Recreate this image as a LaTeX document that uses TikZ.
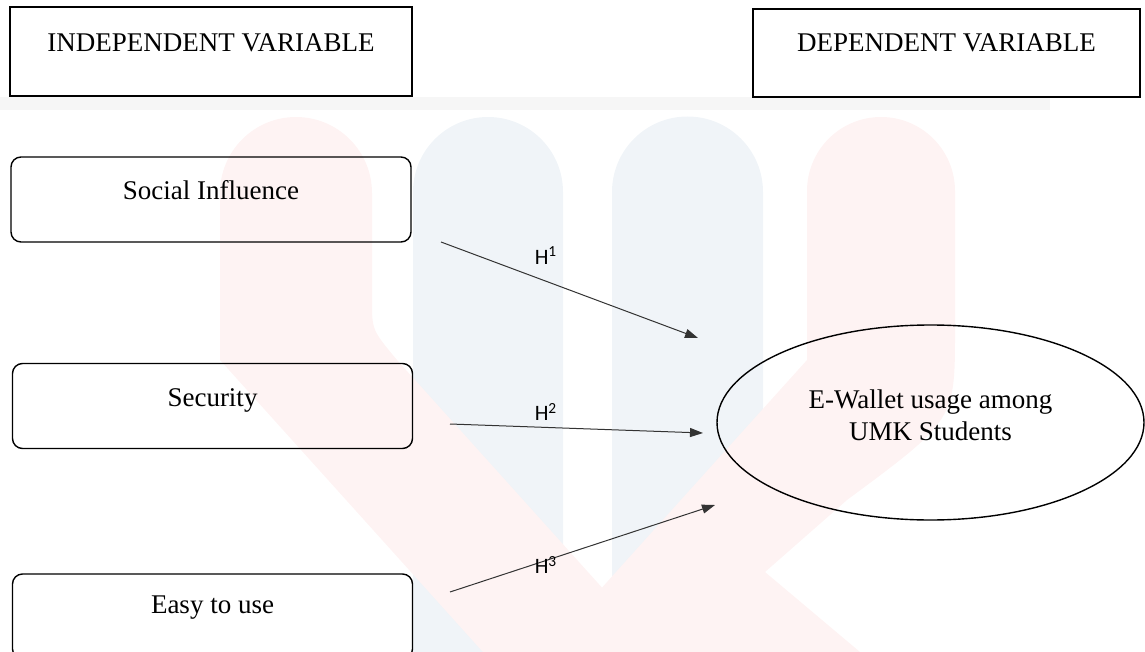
\documentclass[tikz,border=0pt]{standalone}
\usepackage{fontspec}
\setmainfont{Liberation Serif}
\newfontfamily\hypfont{Carlito}
\usetikzlibrary{arrows.meta,shapes.geometric}
\definecolor{logopink}{HTML}{FEF3F3}
\definecolor{logoblue}{HTML}{F0F4F8}
\definecolor{bandgrey}{HTML}{F6F6F6}

\begin{document}
\begin{tikzpicture}[x=0.5pt, y=-0.5pt,
        every node/.style={font=\fontsize{13.5}{16}\selectfont},
        headbox/.style={draw, line width=1.1pt, inner sep=0pt, text height=22.5pt, text depth=22pt},
        varbox/.style={draw, line width=0.7pt, rounded corners=5pt, inner sep=0pt, minimum width=200pt, text height=21.5pt, text depth=21pt},
        hyp/.style={draw=black!80, line width=0.5pt, -{Triangle[length=6.5pt,width=4.5pt]}},
        hlabel/.style={font=\hypfont\fontsize{11}{12}\selectfont, inner sep=0pt}]
    \useasboundingbox (0,0) rectangle (1145,652);
    % faint logo behind the diagram
    \fill[bandgrey] (0,97) rectangle (1050,110);
    \fill[logoblue] (413,652) -- (413,192) arc[start angle=180, end angle=360, radius=75] -- (563,652) -- cycle;
    \fill[logoblue] (612,652) -- (612,192) arc[start angle=180, end angle=360, radius=75.5] -- (763,652) -- cycle;
    \fill[logopink] (483,652) -- (220,360) -- (220,193) arc[start angle=180, end angle=360, radius=76]
        -- (372,300) .. controls (372,330) .. (397,360) -- (660,652) -- cycle;
    \fill[logopink] (544,652) -- (807,360) -- (807,191) arc[start angle=180, end angle=360, radius=74]
        -- (955,330) .. controls (955,420) .. (847,500) -- (765,572) -- (860,652) -- cycle;

    % Headings
    \node[headbox, minimum width=201pt] (indep) at (211,51.5) {INDEPENDENT VARIABLE};
    \node[headbox, minimum width=193.5pt, text height=21.5pt, text depth=22.5pt] (dep) at (946.5,53) {DEPENDENT VARIABLE};

    % Independent variables
    \node[varbox] (social) at (211,199.5) {Social Influence};
    \node[varbox] (security) at (212.5,406) {Security};
    \node[varbox, text height=19.5pt, text depth=23pt] (easy) at (212.5,616.5) {Easy to use};

    % Dependent variable
    \node[ellipse, draw, line width=0.7pt, minimum width=213.5pt, minimum height=97.5pt, inner sep=0pt,
        align=center, text depth=7.7pt] (usage) at (930.5,422.5) {E-Wallet usage among\\UMK Students};

    % Hypotheses
    \coordinate (h1a) at (441,242);
    \coordinate (h1b) at (698,338);
    \coordinate (h2a) at (450,424);
    \coordinate (h2b) at (703,433);
    \coordinate (h3a) at (450,592);
    \coordinate (h3b) at (715,505);
    \draw[hyp] (h1a) -- (h1b);
    \draw[hyp] (h2a) -- (h2b);
    \draw[hyp] (h3a) -- (h3b);
    \node[hlabel] (hone) at (546,256) {H\textsuperscript{1}};
    \node[hlabel] (htwo) at (546,412) {H\textsuperscript{2}};
    \node[hlabel] (hthree) at (546,565) {H\textsuperscript{3}};
\end{tikzpicture}
\end{document}
